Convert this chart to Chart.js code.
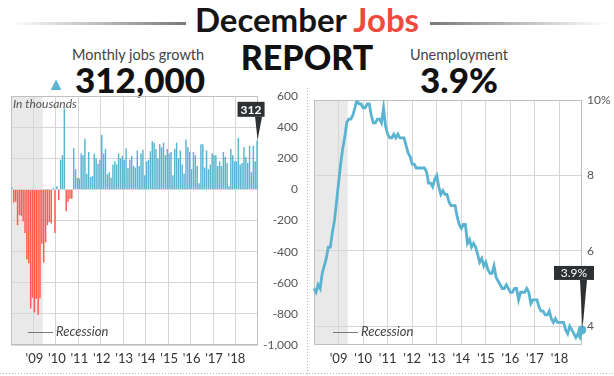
<!DOCTYPE html>
<html>
<head>
<meta charset="utf-8">
<script src="https://cdn.jsdelivr.net/npm/chart.js@4.4.0/dist/chart.umd.min.js"></script>
<style>
  body { margin: 0; background: #fff; font-family: Lato, "Open Sans", sans-serif; }
  #page { position: relative; width: 614px; height: 376px; overflow: hidden; }
  .t { position: absolute; white-space: nowrap; line-height: 1; }
  canvas { position: absolute; }
  .fade { position: absolute; height: 3px; }
  .dots-v { position: absolute; width: 1px; background-image: linear-gradient(to bottom, #b5b5b5 50%, transparent 50%); background-size: 1px 3px; }
  .dots-h { position: absolute; height: 1px; background-image: linear-gradient(to right, #b5b5b5 50%, transparent 50%); background-size: 3px 1px; }
  .leg { position: absolute; font: italic 13px Lato, sans-serif; color: #444; line-height: 1; }
  .leg i { display: inline-block; width: 25px; height: 1px; background: #777; vertical-align: middle; margin-right: 3px; }
</style>
</head>
<body>
<div id="page">
  <div class="fade" style="left:10px; top:22px; width:176px; background:linear-gradient(to right, rgba(140,140,140,0), #7a7a7a);"></div>
  <div class="fade" style="left:430px; top:22px; width:178px; background:linear-gradient(to left, rgba(140,140,140,0), #7a7a7a);"></div>
  <div class="t" style="left:0; width:614px; top:3px; text-align:center; font-weight:700; font-size:33px; color:#151515;">December <span style="color:#f04a3c">Jobs</span></div>
  <div class="t" style="left:0; width:614px; top:40px; text-align:center; font-weight:900; font-size:34px; color:#111;">REPORT</div>

  <div class="t" style="left:72px; top:48px; font-size:14.5px; color:#444;">Monthly jobs growth</div>
  <div class="t" style="left:47px; top:74px; font-size:18px; color:#5ab4d1;">&#9650;</div>
  <div class="t" style="left:75px; top:62px; font-weight:900; font-size:35px; color:#111;">312,000</div>
  <div class="t" style="left:410px; top:48px; font-size:14.5px; color:#444;">Unemployment</div>
  <div class="t" style="left:420px; top:62px; font-weight:900; font-size:35px; color:#111;">3.9%</div>

  <div class="dots-v" style="left:307px; top:88px; height:288px;"></div>
  <div class="dots-h" style="left:0; top:373px; width:614px;"></div>

  <canvas id="jobsChart" width="298" height="282" style="left:0; top:88px; width:298px; height:282px;"></canvas>
  <canvas id="unempChart" width="306" height="282" style="left:308px; top:88px; width:306px; height:282px;"></canvas>

  <div class="t" style="left:13px; top:98px; font-style:italic; font-size:12px; color:#555;">In thousands</div>
  <div class="leg" style="left:28px; top:325px;"><i></i>Recession</div>
  <div class="leg" style="left:333px; top:325px;"><i></i>Recession</div>
</div>

<script>
// months Jan 2008 - Dec 2018
const YEARS = ['2008', '2009', '2010', '2011', '2012', '2013', '2014', '2015', '2016', '2017', '2018'];
const YEAR_LABELS = ['', "'09", "'10", "'11", "'12", "'13", "'14", "'15", "'16", "'17", "'18"];
const MONTHS = YEARS.flatMap(y => ['01','02','03','04','05','06','07','08','09','10','11','12'].map(m => y + '-' + m));

// recession shading ends with this month
const RECESSION_END = '2009-06';

// monthly change in payrolls, thousands
const JOBS = [
  10, -85, -79, -230, -165, -170, -205, -280, -450, -475, -765, -697,
  -791, -703, -805, -700, -350, -470, -340, -230, -210, -220, 10, -280,
  20, -70, 190, 220, 520, -140, -80, -60, -60, 265, 130, 75,
  70, 230, 220, 325, 100, 240, 80, 85, 230, 200, 165, 190,
  350, 230, 260, 95, 110, 75, 160, 180, 160, 230, 200, 215,
  190, 265, 135, 190, 215, 150, 140, 250, 150, 230, 255, 90,
  180, 190, 245, 310, 300, 260, 200, 290, 270, 300, 220, 260,
  230, 240, 90, 260, 300, 200, 250, 160, 100, 320, 270, 240,
  130, 240, 220, 150, 40, 290, 290, 140, 250, 130, 160, 230,
  220, 220, 150, 180, 150, 240, 210, 170, 20, 260, 220, 180,
  180, 330, 160, 170, 270, 210, 170, 280, 110, 280, 180, 312
];

// unemployment rate, percent
const UNEMP = [
  5.0, 4.9, 5.1, 5.0, 5.4, 5.6, 5.8, 6.1, 6.1, 6.5, 6.8, 7.3,
  7.8, 8.3, 8.7, 9.0, 9.4, 9.5, 9.5, 9.6, 9.8, 10.0, 9.9, 9.9,
  9.8, 9.8, 9.9, 9.9, 9.6, 9.4, 9.4, 9.5, 9.5, 9.4, 9.8, 9.3,
  9.1, 9.0, 9.0, 9.1, 9.0, 9.1, 9.0, 9.0, 9.0, 8.8, 8.6, 8.5,
  8.3, 8.3, 8.2, 8.2, 8.2, 8.2, 8.2, 8.1, 7.8, 7.8, 7.7, 7.9,
  8.0, 7.7, 7.5, 7.6, 7.5, 7.5, 7.3, 7.2, 7.2, 7.2, 6.9, 6.7,
  6.6, 6.7, 6.7, 6.2, 6.3, 6.1, 6.2, 6.1, 5.9, 5.7, 5.8, 5.6,
  5.7, 5.5, 5.4, 5.4, 5.6, 5.3, 5.2, 5.1, 5.0, 5.0, 5.1, 5.0,
  4.9, 4.9, 5.0, 5.0, 4.7, 4.9, 4.9, 4.9, 5.0, 4.9, 4.6, 4.7,
  4.7, 4.7, 4.5, 4.4, 4.4, 4.3, 4.3, 4.4, 4.2, 4.1, 4.2, 4.1,
  4.1, 4.1, 4.1, 3.9, 3.8, 4.0, 3.9, 3.8, 3.7, 3.8, 3.7, 3.9
];

const JOBS_TICKS = [600, 400, 200, 0, -200, -400, -600, -800, -1000];
const UNEMP_TICKS = [4, 6, 8, 10];

const BLUE = '#5ab4d1';
const RED = '#ff5a4c';
const GRID = '#d6d6d6';
const FRAME = '#c0c0c0';
const SHADE = '#e9e9e9';
const BOX = '#2e3133';
const LAST = MONTHS.length - 1;
const endIdx = MONTHS.indexOf(RECESSION_END);

const xTicks = {
  autoSkip: false, maxRotation: 0, padding: 6, color: '#333',
  font: { family: 'Lato', size: 13 },
  callback: (v, i) => i % 12 === 0 ? YEAR_LABELS[i / 12] : ''
};

// gray band for the recession, drawn under the grid
const recessionBand = {
  id: 'recessionBand',
  beforeDraw(chart) {
    const { ctx, chartArea, scales } = chart;
    const x = scales.x;
    const step = x.getPixelForValue(1) - x.getPixelForValue(0);
    const right = x.getPixelForValue(endIdx) - step / 2;
    ctx.save();
    ctx.fillStyle = SHADE;
    ctx.fillRect(chartArea.left, chartArea.top, right - chartArea.left, chartArea.height);
    ctx.restore();
  }
};

const frame = {
  id: 'frame',
  beforeDatasetsDraw(chart) {
    const { ctx, chartArea: a } = chart;
    ctx.save();
    ctx.strokeStyle = FRAME;
    ctx.lineWidth = 1;
    ctx.strokeRect(Math.round(a.left) + 0.5, Math.round(a.top) + 0.5, Math.round(a.width) - 1, Math.round(a.height) - 1);
    ctx.restore();
  }
};

// dark label box with a pointer down to the last mark
function callout(text, dx, dy, w, h, bold) {
  return {
    id: 'callout',
    afterDatasetsDraw(chart) {
      const el = chart.getDatasetMeta(0).data[LAST];
      const ctx = chart.ctx;
      const cx = el.x + dx, bottom = el.y + dy;
      ctx.save();
      ctx.fillStyle = BOX;
      ctx.fillRect(cx - w / 2, bottom - h, w, h);
      ctx.beginPath();
      ctx.moveTo(el.x - 2, bottom);
      ctx.lineTo(el.x + 5, bottom);
      ctx.lineTo(el.x + 0.5, el.y - 1);
      ctx.closePath();
      ctx.fill();
      ctx.fillStyle = '#fff';
      ctx.font = (bold ? '700 ' : '400 ') + '12px Lato';
      ctx.textAlign = 'center';
      ctx.textBaseline = 'middle';
      ctx.fillText(text, cx, bottom - h / 2 + 0.5);
      ctx.restore();
    }
  };
}

new Chart(document.getElementById('jobsChart'), {
  type: 'bar',
  data: {
    labels: MONTHS,
    datasets: [{
      data: JOBS,
      backgroundColor: JOBS.map(v => v < 0 ? RED : BLUE),
      barPercentage: 0.78,
      categoryPercentage: 1
    }]
  },
  options: {
    responsive: false,
    animation: false,
    layout: { padding: { left: 11, top: 8, right: 0, bottom: 0 } },
    plugins: { legend: { display: false }, tooltip: { enabled: false } },
    scales: {
      x: {
        grid: { offset: true, drawTicks: false, color: c => c.index % 12 === 0 ? GRID : 'transparent' },
        border: { display: false },
        ticks: xTicks,
        afterFit: s => { s.height = 25; }
      },
      y: {
        position: 'right',
        min: -1000, max: 600,
        afterBuildTicks: s => { s.ticks = JOBS_TICKS.map(v => ({ value: v })); },
        grid: { drawTicks: false, color: GRID },
        border: { display: false },
        ticks: {
          crossAlign: 'far', padding: 0, color: '#555',
          font: { family: 'Lato', size: 12 },
          callback: v => v.toLocaleString('en-US')
        },
        afterFit: s => { s.width = 40; }
      }
    }
  },
  plugins: [recessionBand, frame, callout(String(JOBS[LAST]), -6, -24, 27, 15, true)]
});

new Chart(document.getElementById('unempChart'), {
  type: 'line',
  data: {
    labels: MONTHS,
    datasets: [{
      data: UNEMP,
      borderColor: BLUE,
      borderWidth: 2.8,
      tension: 0,
      pointRadius: UNEMP.map((v, i) => i === LAST ? 4.5 : 0),
      pointBackgroundColor: BLUE,
      pointBorderWidth: 0,
      pointHoverRadius: 0
    }]
  },
  options: {
    responsive: false,
    animation: false,
    layout: { padding: { left: 6, top: 8, right: 0, bottom: 0 } },
    plugins: { legend: { display: false }, tooltip: { enabled: false } },
    scales: {
      x: {
        grid: { drawTicks: false, color: c => c.index % 12 === 0 ? GRID : 'transparent' },
        border: { display: false },
        ticks: xTicks,
        afterFit: s => { s.height = 25; }
      },
      y: {
        position: 'right',
        min: 3.5, max: 10,
        afterBuildTicks: s => { s.ticks = UNEMP_TICKS.map(v => ({ value: v })); },
        grid: { drawTicks: false, color: GRID },
        border: { display: false },
        ticks: {
          padding: 5, color: '#555',
          font: { family: 'Lato', size: 12 },
          callback: v => v === 10 ? '10%' : String(v)
        },
        afterFit: s => { s.width = 32; }
      }
    }
  },
  plugins: [recessionBand, frame, callout(UNEMP[LAST].toFixed(1) + '%', -8, -50, 40, 14, false)]
});
</script>
</body>
</html>
